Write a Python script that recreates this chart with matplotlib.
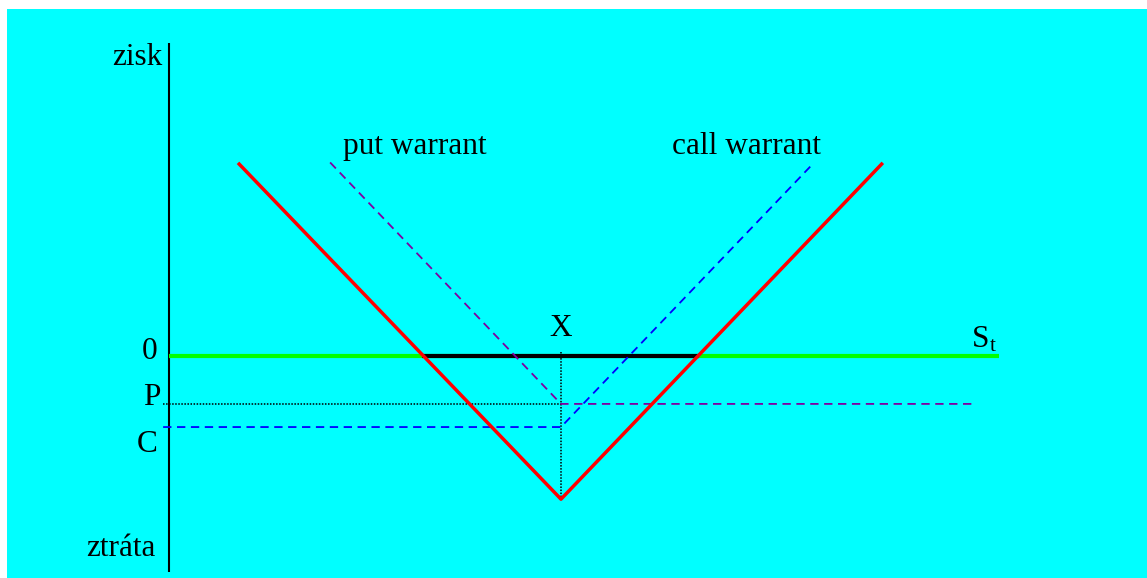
import matplotlib
matplotlib.use("Agg")
import matplotlib.pyplot as plt
from matplotlib.patches import Rectangle

# ---- data (stock price S, profit V in schematic units) ----
X_strike = 100.0
put_premium = -12.3
call_premium = -18.2
straddle_bottom = -36.6

axis_S = [0, 0]
axis_V = [79.8, -55.1]

zero_S = [0, 211.7]
zero_V = [0, 0]

black_S = [64.5, 135.2]
black_V = [0, 0]

straddle_S = [17.6, X_strike, 182.1]
straddle_V = [49.2, straddle_bottom, 49.2]

put_S = [41.1, X_strike, 205.4]
put_V = [49.3, put_premium, put_premium]

p_level_S = [-1.5, X_strike]
p_level_V = [put_premium, put_premium]

call_S = [-1.5, X_strike, 164.5]
call_V = [call_premium, call_premium, 49.2]

xline_S = [X_strike, X_strike]
xline_V = [0.9, straddle_bottom]

W, H = 1147, 578
plt.rcParams['lines.scale_dashes'] = False
fig = plt.figure(figsize=(W / 100, H / 100), dpi=100)
fig.patch.set_facecolor('white')
fig.patches.append(Rectangle((7 / W, 0), 1 - 7 / W, (H - 9) / H,
                             transform=fig.transFigure, facecolor='#00FFFF',
                             edgecolor='none', zorder=-10))

ax = fig.add_axes([0, 0, 1, 1])
ax.patch.set_alpha(0)
ax.axis('off')
sx = 3.92
ax.set_xlim(-169 / sx, (W - 169) / sx)
ax.set_ylim((355.7 - H) / sx, 355.7 / sx)


def px(x, y):
    return (x - 169) / sx, (355.7 - y) / sx


dash = (0, (6, 4))
dot = (0, (1.1, 1.1))

ax.plot(axis_S, axis_V, color='black', lw=1.5, solid_capstyle='butt')
ax.plot(zero_S, zero_V, color='#00FF00', lw=3, solid_capstyle='butt')
ax.plot(black_S, black_V, color='black', lw=3, solid_capstyle='butt')
ax.plot(p_level_S, p_level_V, color='black', lw=1.1, linestyle=dot)
ax.plot(xline_S, xline_V, color='black', lw=1.1, linestyle=dot)
ax.plot(put_S, put_V, color='#8000A0', lw=1.3, linestyle=dash)
ax.plot(call_S, call_V, color='#0000FF', lw=1.3, linestyle=dash)
ax.plot(straddle_S, straddle_V, color='#FF0000', lw=2.5, solid_capstyle='butt')

font = dict(family='Liberation Serif', fontsize=22.5, color='black', va='baseline')


def label(x, y, s, ha='left', **kw):
    d = dict(font)
    d.update(kw)
    ax.text(*px(x, y), s, ha=ha, **d)


label(162, 65, 'zisk', ha='right')
label(157, 359, '0', ha='right')
label(160, 405, 'P', ha='right')
label(157.5, 451.5, 'C', ha='right')
label(156, 555.5, 'ztráta', ha='right')
label(343, 154.3, 'put warrant')
label(672, 154, 'call warrant')
label(561, 336, 'X', ha='center')
label(972, 346.7, 'S')
label(989.5, 351, 't', fontsize=15)

fig.savefig('out.png', dpi=100)
